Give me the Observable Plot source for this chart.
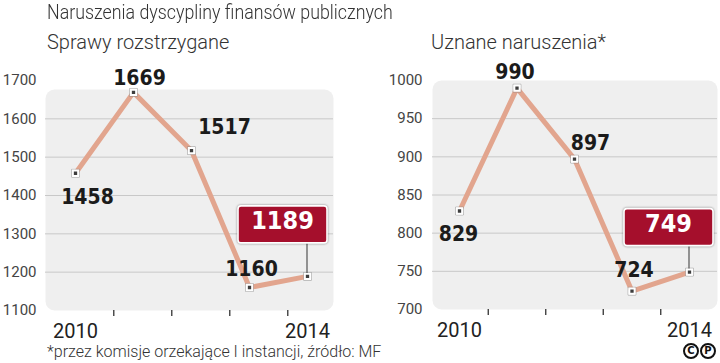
<!DOCTYPE html>
<html>
<head>
<meta charset="utf-8">
<script src="https://cdn.jsdelivr.net/npm/d3@7"></script>
<script src="https://cdn.jsdelivr.net/npm/@observablehq/plot@0.6"></script>
<style>
  html, body { margin: 0; padding: 0; background: #fff; }
  #wrap { position: relative; width: 720px; height: 363px; overflow: hidden; background: #fff; font-family: Roboto, "Noto Sans", sans-serif; }
  .t { position: absolute; white-space: nowrap; color: #333; font-weight: 300; }
  .sq { transform: scaleX(0.89); transform-origin: 0 0; }
  .panel { position: absolute; top: 0; }
  .cp { display: inline-block; box-sizing: border-box; width: 16px; height: 16px; border: 2px solid #111; border-radius: 50%;
        font: bold 10px/12px "DejaVu Sans", sans-serif; text-align: center; color: #111; margin-right: 1px; }
</style>
</head>
<body>
<div id="wrap">
  <div class="t sq" id="title" style="left:47px; top:2px; font-size:20px; line-height:20px;"></div>
  <div class="t" id="sub1" style="left:47px; top:32px; font-size:20px; line-height:20px;"></div>
  <div class="t" id="sub2" style="left:431px; top:32px; font-size:20px; line-height:20px;"></div>
  <div id="left" class="panel" style="left:0px;"></div>
  <div id="right" class="panel" style="left:360px;"></div>
  <div class="t" id="note" style="left:47px; top:344px; font-size:16px; line-height:16px; color:#333;"></div>
  <div style="position:absolute; left:683px; top:343px; display:flex;"><span class="cp">C</span><span class="cp">P</span></div>
</div>
<script>
// ---- data ----
const titleText = "Naruszenia dyscypliny finansów publicznych";
const panelTitles = ["Sprawy rozstrzygane", "Uznane naruszenia*"];
const noteText = "*przez komisje orzekające I instancji, źródło: MF";
const years = [2010, 2011, 2012, 2013, 2014];
const sprawy = [1458, 1669, 1517, 1160, 1189];
const uznane = [829, 990, 897, 724, 749];
const sprawyTicks = [1100, 1200, 1300, 1400, 1500, 1600, 1700];
const sprawyGrid = [1200, 1300, 1400, 1500, 1600];
const uznaneTicks = [700, 750, 800, 850, 900, 950, 1000];
const uznaneGrid = [750, 800, 850, 900, 950];
const yearLabels = [2010, 2014];

document.getElementById("title").textContent = titleText;
document.getElementById("sub1").textContent = panelTitles[0];
document.getElementById("sub2").textContent = panelTitles[1];
document.getElementById("note").textContent = noteText;

// ---- layout ----
const leftCfg = {
  domain: [1100, 1700], ticks: sprawyTicks, grid: sprawyGrid,
  marginTop: 89, marginBottom: 53, marginLeft: 45, marginRight: 27,
  insetTop: -9, insetLeft: 30, insetRight: 26, tickPadding: 9, tickShift: 0.66,
  offsets: [[12, 24], [6, -14], [33, -23], [2, -18]], boxOffset: [-25, -55]
};
const rightCfg = {
  domain: [700, 1000], ticks: uznaneTicks, grid: uznaneGrid,
  marginTop: 80, marginBottom: 54, marginLeft: 72, marginRight: 3,
  insetTop: 0, insetLeft: 27, insetRight: 28, tickPadding: 10, tickShift: 0.5,
  offsets: [[-1, 23], [-2, -16], [16, -16], [2, -21]], boxOffset: [-21, -48]
};

const valueFont = "'DejaVu Sans Condensed', 'DejaVu Sans', sans-serif";

function panel(values, cfg, host) {
  const data = years.map((year, i) => ({year, value: values[i]}));
  const last = data.length - 1;
  const marks = [
    Plot.frame({fill: "#efefef", stroke: null, rx: 9}),
    Plot.gridY(cfg.grid, {stroke: "#c8c8c8", strokeOpacity: 1, strokeWidth: 1}),
    Plot.axisY(cfg.ticks, {tickSize: 0, tickPadding: cfg.tickPadding, fontSize: 15, color: "#444", label: null, tickFormat: d => String(d)}),
    Plot.axisX(years.slice(0, -1).map(y => y + cfg.tickShift), {tickSize: 6, tickFormat: () => "", stroke: "#333", strokeWidth: 1.3, label: null}),
    Plot.axisX(yearLabels, {tickSize: 0, tickPadding: 13, fontSize: 20, color: "#222", label: null, tickFormat: d => String(d)}),
    Plot.line(data, {x: "year", y: "value", stroke: "#e2a58e", strokeWidth: 5}),
    Plot.dot(data, {x: "year", y: "value", symbol: "square", r: 4.4, fill: "none", stroke: "#8a8a8a", strokeWidth: 0.6}),
    Plot.dot(data, {x: "year", y: "value", symbol: "square", r: 3, fill: "#3d3d3d", stroke: "#fff", strokeWidth: 2}),
    ...data.slice(0, last).map((d, i) => Plot.text([d], {
      x: "year", y: "value", text: d => String(d.value),
      dx: cfg.offsets[i][0], dy: cfg.offsets[i][1], lineAnchor: "middle",
      fontSize: 21, fontWeight: "bold", fontFamily: valueFont, fill: "#1b1b1b"
    })),
    Plot.text([data[last]], {
      x: "year", y: "value", text: d => String(d.value),
      dx: cfg.boxOffset[0], dy: cfg.boxOffset[1], lineAnchor: "middle",
      fontSize: 25, fontWeight: "bold", fontFamily: valueFont, fill: "#fff", ariaDescription: "boxlabel"
    })
  ];
  const chart = Plot.plot({
    width: 360, height: 363,
    marginTop: cfg.marginTop, marginBottom: cfg.marginBottom,
    marginLeft: cfg.marginLeft, marginRight: cfg.marginRight,
    x: {type: "linear", domain: [years[0], years[last]], insetLeft: cfg.insetLeft, insetRight: cfg.insetRight},
    y: {domain: cfg.domain, insetTop: cfg.insetTop},
    style: {fontFamily: "Roboto, 'Noto Sans', sans-serif", background: "transparent", overflow: "visible"},
    marks
  });
  host.appendChild(chart);

  // box behind the highlighted label + leader line to its point
  const svg = chart.tagName.toLowerCase() === "svg" ? chart : chart.querySelector("svg");
  const ns = "http://www.w3.org/2000/svg";
  let g = svg.querySelector('g[aria-description="boxlabel"]');
  if (!g) {
    const gs = svg.querySelectorAll('g[aria-label="text"]');
    g = gs[gs.length - 1];
  }
  if (g) {
    const txt = g.querySelector("text");
    const bb = txt.getBBox();
    const w = 89, h = 37;
    const cx = bb.x + bb.width / 2, cy = bb.y + bb.height / 2 + 3.5;
    const rect = document.createElementNS(ns, "rect");
    rect.setAttribute("x", cx - w / 2);
    rect.setAttribute("y", cy - h / 2);
    rect.setAttribute("width", w);
    rect.setAttribute("height", h);
    rect.setAttribute("rx", 3);
    rect.setAttribute("fill", "#a50f2c");
    rect.setAttribute("stroke", "#fff");
    rect.setAttribute("stroke-width", 1.6);
    rect.setAttribute("style", "filter: drop-shadow(0 0 1.2px rgba(0,0,0,0.45))");
    if (txt.getAttribute("transform")) rect.setAttribute("transform", txt.getAttribute("transform"));
    txt.parentNode.insertBefore(rect, txt);

    const sr = svg.getBoundingClientRect();
    const rr = rect.getBoundingClientRect();
    let px, py;
    try {
      px = chart.scale("x").apply(data[last].year);
      py = chart.scale("y").apply(data[last].value);
    } catch (e) { px = rr.left - sr.left + w / 2; py = rr.bottom - sr.top + 30; }
    const line = document.createElementNS(ns, "line");
    line.setAttribute("x1", px); line.setAttribute("x2", px);
    line.setAttribute("y1", rr.bottom - sr.top - 2); line.setAttribute("y2", py - 3);
    line.setAttribute("stroke", "#444"); line.setAttribute("stroke-width", 1.1);
    g.parentNode.insertBefore(line, g);
  }
}

panel(sprawy, leftCfg, document.getElementById("left"));
panel(uznane, rightCfg, document.getElementById("right"));
</script>
</body>
</html>
